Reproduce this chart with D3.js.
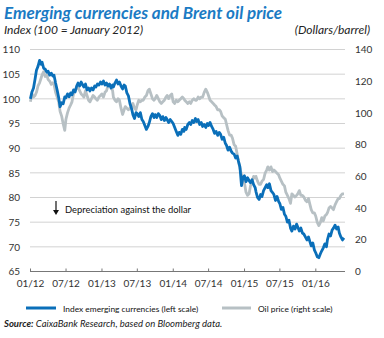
<!DOCTYPE html>
<html>
<head>
<meta charset="utf-8">
<script src="https://cdn.jsdelivr.net/npm/d3@7"></script>
<style>
  html, body { margin: 0; padding: 0; background: #fff; }
  svg { display: block; font-family: Lato, "Noto Sans", sans-serif; }
</style>
</head>
<body>
<svg id="chart" width="384" height="338"></svg>
<script>
// Sampling: four observations per month (3rd, 11th, 19th, 27th), Jan 2012 – May 2016
const startMonth = new Date(2012, 0, 1);
const monthCount = 53;
const sampleDays = [3, 11, 19, 27];

// Index of emerging-market currencies vs USD (100 = January 2012), left scale
const currencyIndex = [
  // 2012
  100.0, 101.4, 102.2, 104.0,  105.8, 106.6, 107.8, 107.0,  107.4, 106.2, 106.0, 105.4,
  105.6, 104.8, 105.2, 104.6,  104.8, 103.2, 101.8, 100.2,   98.4,  99.2,  99.0, 100.4,
  100.2, 101.0, 100.4, 101.2,  100.8, 101.8, 101.4, 102.6,  103.2, 102.6, 103.4, 102.8,
  102.4, 103.0, 101.8, 102.2,  101.6, 102.2, 101.8, 102.6,  102.4, 103.0, 102.8, 103.4,
  // 2013
  103.0, 103.6, 102.8, 103.2,  102.6, 103.0, 102.2, 102.8,  102.4, 103.2, 103.8, 103.0,
  103.4, 102.6, 102.0, 102.8,  102.6, 101.2, 100.6,  99.0,   98.2,  96.8,  96.0,  97.2,
   97.0,  96.4,  97.2,  95.8,   95.4,  94.6,  93.8,  94.4,   95.2,  96.4,  97.0,  96.2,
   96.8,  96.2,  97.0,  96.6,   95.8,  96.4,  95.6,  96.2,   95.8,  95.2,  95.8,  95.4,
  // 2014
   95.0,  94.2,  93.4,  92.6,   93.2,  92.8,  93.8,  93.4,   94.2,  93.8,  94.8,  95.2,
   94.8,  95.6,  95.2,  96.0,   95.4,  95.8,  94.8,  95.2,   94.4,  94.8,  94.2,  95.0,
   94.6,  95.2,  94.4,  93.8,   93.0,  93.4,  92.6,  93.2,   92.8,  91.8,  92.2,  91.0,
   90.6,  89.6,  90.2,  89.4,   89.0,  88.8,  88.0,  88.4,   87.4,  86.2,  82.4,  84.2,
  // 2015
   84.4,  83.2,  84.0,  83.4,   83.0,  83.6,  82.6,  82.0,   81.2,  80.0,  79.6,  80.6,
   80.2,  81.4,  82.0,  82.6,   82.0,  82.8,  81.4,  81.0,   80.6,  79.4,  80.2,  79.2,
   78.8,  77.6,  78.0,  76.6,   76.2,  75.0,  75.4,  73.8,   73.2,  74.2,  73.6,  74.6,
   74.0,  73.2,  73.8,  72.8,   72.6,  72.0,  71.4,  72.0,   71.2,  70.2,  70.8,  69.4,
  // 2016
   68.8,  68.0,  67.8,  68.6,   69.2,  69.8,  70.6,  70.0,   71.4,  72.6,  72.2,  73.4,
   73.8,  74.4,  73.6,  74.0,   72.8,  72.0,  71.4,  71.8
];

// Brent crude, dollars per barrel, right scale
const oilPrice = [
  // 2012
  107, 112, 110, 111,  113, 117, 119, 122,  124, 126, 123, 124,
  121, 120, 118, 119,  118, 113, 110, 107,  101,  98,  93,  89,
   96, 100, 103, 105,  107, 112, 114, 116,  116, 114, 112, 111,
  110, 114, 111, 108,  107, 109, 111, 110,  109, 108, 110, 111,
  // 2013
  112, 110, 113, 114,  117, 118, 116, 114,  110, 108, 107, 109,
  108, 103,  99, 102,  104, 103, 102, 103,  104, 106, 103, 102,
  105, 108, 107, 108,  108, 110, 111, 114,  115, 112, 109, 108,
  109, 111, 109, 107,  106, 107, 108, 110,  111, 109, 111, 112,
  // 2014
  107, 106, 108, 107,  108, 109, 110, 109,  108, 107, 106, 107,
  106, 108, 109, 108,  108, 110, 109, 110,  110, 113, 115, 113,
  111, 108, 107, 106,  105, 104, 102, 102,  101,  98,  97,  96,
   93,  89,  86,  86,   84,  80,  79,  74,   70,  65,  61,  60,
  // 2015
   56,  50,  48,  49,   54,  57,  60,  59,   60,  57,  55,  55,
   57,  58,  62,  64,   66,  64,  66,  63,   64,  63,  62,  61,
   59,  57,  55,  54,   50,  48,  46,  43,   49,  48,  47,  48,
   49,  51,  48,  48,   47,  45,  44,  46,   43,  39,  37,  37,
  // 2016
   35,  31,  29,  31,   34,  32,  35,  36,   37,  40,  41,  40,
   39,  42,  44,  46,   46,  48,  49,  49
];

const leftTicks = [65, 70, 75, 80, 85, 90, 95, 100, 105, 110];
const rightTicks = [0, 20, 40, 60, 80, 100, 120, 140];
const xTickLabels = ["01/12", "07/12", "01/13", "07/13", "01/14", "07/14", "01/15", "07/15", "01/16"];

const dates = [];
for (let m = 0; m < monthCount; m++) {
  for (const d of sampleDays) {
    dates.push(new Date(startMonth.getFullYear(), startMonth.getMonth() + m, d));
  }
}
const currencySeries = dates.map((d, i) => ({ date: d, value: currencyIndex[i] }));
const oilSeries = dates.map((d, i) => ({ date: d, value: oilPrice[i] }));

const svg = d3.select("#chart");
const plot = { left: 30, right: 345, top: 49.5, bottom: 271.5 };

const x = d3.scaleTime()
  .domain([new Date(2012, 0, 1), new Date(2016, 5, 1)])
  .range([plot.left, plot.right]);
const yLeft = d3.scaleLinear().domain([65, 110]).range([plot.bottom, plot.top]);
const yRight = d3.scaleLinear().domain([0, 140]).range([plot.bottom, plot.top]);

// Titles
svg.append("text")
  .attr("x", 4).attr("y", 19)
  .attr("fill", "#1b7bc4")
  .style("font-size", "17px").style("font-weight", "bold").style("font-style", "italic")
  .text("Emerging currencies and Brent oil price");
svg.append("text")
  .attr("x", 4).attr("y", 34)
  .attr("fill", "#222")
  .style("font-size", "12px").style("font-style", "italic")
  .text("Index (100 = January 2012)");
svg.append("text")
  .attr("x", 370).attr("y", 34)
  .attr("text-anchor", "end")
  .attr("fill", "#222")
  .style("font-size", "12px").style("font-style", "italic")
  .text("(Dollars/barrel)");

// Horizontal gridlines
svg.append("g")
  .selectAll("line")
  .data(leftTicks.slice(1))
  .join("line")
  .attr("x1", plot.left).attr("x2", plot.right)
  .attr("y1", d => yLeft(d)).attr("y2", d => yLeft(d))
  .attr("stroke", "#d2d2d2").attr("stroke-width", 1);

// Left axis labels
const leftAxis = d3.axisLeft(yLeft).tickValues(leftTicks).tickSize(0).tickPadding(10);
const gl = svg.append("g").attr("transform", `translate(${plot.left},0)`).call(leftAxis);
gl.select(".domain").remove();
gl.selectAll("text").attr("fill", "#333").style("font-size", "10px")
  .style("font-family", "Lato, 'Noto Sans', sans-serif");

// Right axis labels
const rightAxis = d3.axisRight(yRight).tickValues(rightTicks).tickSize(0).tickPadding(10);
const gr = svg.append("g").attr("transform", `translate(${plot.right},0)`).call(rightAxis);
gr.select(".domain").remove();
gr.selectAll("text").attr("fill", "#333").style("font-size", "10px")
  .style("font-family", "Lato, 'Noto Sans', sans-serif");

// Bottom axis with small inward ticks
const tickDates = xTickLabels.map(s => new Date(2000 + +s.slice(3), +s.slice(0, 2) - 1, 1));
const bottomAxis = d3.axisBottom(x).tickValues(tickDates).tickSize(-3).tickPadding(8)
  .tickFormat((d, i) => xTickLabels[i]);
const gb = svg.append("g").attr("transform", `translate(0,${plot.bottom})`).call(bottomAxis);
gb.select(".domain").attr("d", `M${plot.left},0H${plot.right}`).attr("stroke", "#777");
gb.selectAll(".tick line").attr("stroke", "#777");
gb.selectAll("text").attr("fill", "#333").style("font-size", "10px")
  .style("font-family", "Lato, 'Noto Sans', sans-serif");

// Series
const lineLeft = d3.line().x(d => x(d.date)).y(d => yLeft(d.value));
const lineRight = d3.line().x(d => x(d.date)).y(d => yRight(d.value));

svg.append("path").datum(oilSeries)
  .attr("d", lineRight)
  .attr("fill", "none").attr("stroke", "#b7c0c4").attr("stroke-width", 2.8)
  .attr("stroke-linejoin", "round");
svg.append("path").datum(currencySeries)
  .attr("d", lineLeft)
  .attr("fill", "none").attr("stroke", "#0a6fb9").attr("stroke-width", 2.8)
  .attr("stroke-linejoin", "round");

// Annotation
const ann = svg.append("g").attr("transform", "translate(56,0)");
ann.append("line").attr("x1", 0).attr("x2", 0).attr("y1", 201).attr("y2", 213)
  .attr("stroke", "#111").attr("stroke-width", 1.2);
ann.append("path").attr("d", "M-3,210L0,215L3,210Z").attr("fill", "#111");
svg.append("text").attr("x", 65).attr("y", 213)
  .attr("fill", "#111").style("font-size", "9.4px")
  .text("Depreciation against the dollar");

// Legend
const legend = svg.append("g");
legend.append("line").attr("x1", 26).attr("x2", 56).attr("y1", 308).attr("y2", 308)
  .attr("stroke", "#0a6fb9").attr("stroke-width", 3);
legend.append("text").attr("x", 63).attr("y", 311.5)
  .attr("fill", "#111").style("font-size", "8.4px")
  .text("Index emerging currencies (left scale)");
legend.append("line").attr("x1", 222).attr("x2", 251).attr("y1", 308).attr("y2", 308)
  .attr("stroke", "#b7c0c4").attr("stroke-width", 3);
legend.append("text").attr("x", 258).attr("y", 311.5)
  .attr("fill", "#111").style("font-size", "8.4px")
  .text("Oil price (right scale)");

// Source note
const src = svg.append("text").attr("x", 4).attr("y", 327)
  .attr("fill", "#222").style("font-size", "9.5px").style("font-style", "italic");
src.append("tspan").style("font-weight", "bold").text("Source:");
src.append("tspan").text(" CaixaBank Research, based on Bloomberg data.");
</script>
</body>
</html>
